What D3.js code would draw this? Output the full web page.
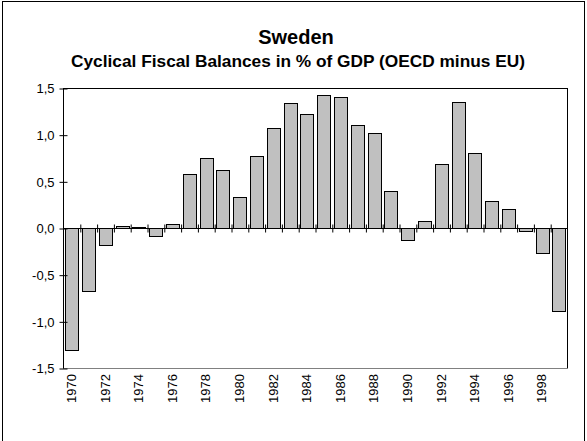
<!DOCTYPE html>
<html>
<head>
<meta charset="utf-8">
<script src="https://cdn.jsdelivr.net/npm/d3@7"></script>
<style>
  body { margin: 0; background: #fff; }
  svg { display: block; font-family: Arial, "Liberation Sans", sans-serif; }
</style>
</head>
<body>
<div id="chart"></div>
<script>
// data
const years = d3.range(1970, 2000).map(String);
const balances = [
  -1.31, -0.68, -0.18, 0.02, 0.01, -0.09, 0.04, 0.58, 0.75, 0.62,
  0.33, 0.77, 1.07, 1.34, 1.22, 1.42, 1.40, 1.10, 1.02, 0.40,
  -0.13, 0.07, 0.69, 1.35, 0.80, 0.29, 0.20, -0.03, -0.27, -0.89
];
const yTicks = [-1.5, -1.0, -0.5, 0.0, 0.5, 1.0, 1.5];
const yearLabels = years.filter((d, i) => i % 2 === 0);
const titleText = 'Sweden';
const subtitleText = 'Cyclical Fiscal Balances in % of GDP (OECD minus EU)';

const width = 587, height = 441;
const plotLeft = 63, plotRight = 567, plotTop = 88, plotBottom = 368;

const svg = d3.select('#chart').append('svg')
  .attr('width', width)
  .attr('height', height);

// outer chart frame
svg.append('rect')
  .attr('x', 2.5).attr('y', 1.5)
  .attr('width', 582).attr('height', 450)
  .attr('fill', 'none')
  .attr('stroke', '#000');

svg.append('text')
  .attr('x', 296).attr('y', 44)
  .attr('text-anchor', 'middle')
  .attr('font-weight', 'bold')
  .attr('font-size', '20px')
  .text(titleText);

svg.append('text')
  .attr('x', 298).attr('y', 67)
  .attr('text-anchor', 'middle')
  .attr('font-weight', 'bold')
  .attr('font-size', '17.3px')
  .text(subtitleText);

const x = d3.scaleBand()
  .domain(years)
  .range([plotLeft, plotRight])
  .paddingInner(0.25)
  .paddingOuter(0.125);

const xEdge = d3.scaleLinear()
  .domain([0, years.length])
  .range([plotLeft, plotRight]);

const y = d3.scaleLinear()
  .domain([-1.5, 1.5])
  .range([plotBottom, plotTop]);

// plot area border: top and right black, bottom gray
svg.append('line')
  .attr('x1', plotLeft).attr('x2', plotRight + 0.5)
  .attr('y1', plotTop + 0.5).attr('y2', plotTop + 0.5)
  .attr('stroke', '#000');
svg.append('line')
  .attr('x1', plotRight + 0.5).attr('x2', plotRight + 0.5)
  .attr('y1', plotTop).attr('y2', plotBottom)
  .attr('stroke', '#000');
svg.append('line')
  .attr('x1', plotLeft).attr('x2', plotRight + 1)
  .attr('y1', plotBottom + 0.5).attr('y2', plotBottom + 0.5)
  .attr('stroke', '#808080');

svg.selectAll('.bar')
  .data(balances)
  .enter()
    .append('rect')
    .attr('class', 'bar')
    .attr('x', (d, i) => Math.round(x(years[i])) + 0.5)
    .attr('width', Math.round(x.bandwidth()))
    .attr('y', d => Math.round(y(Math.max(0, d))) + 0.5)
    .attr('height', d => Math.max(1, Math.round(Math.abs(y(d) - y(0)))))
    .attr('fill', '#c0c0c0')
    .attr('stroke', '#000');

// value axis
const yAxis = svg.append('g')
  .attr('transform', 'translate(' + (plotLeft + 0.5) + ',0.5)')
  .call(d3.axisLeft(y)
    .tickValues(yTicks)
    .tickSize(4)
    .tickPadding(5)
    .tickFormat(d => d3.format('.1f')(d).replace('.', ',').replace('−', '-')));
yAxis.select('.domain').attr('d', 'M0,' + plotTop + 'V' + plotBottom).attr('stroke', '#000');
yAxis.selectAll('.tick line').attr('x1', 4);
yAxis.selectAll('.tick text').attr('font-size', '13px').attr('font-family', null).attr('fill', '#000');

// category axis through zero with crossing ticks
const xAxis = svg.append('g')
  .attr('transform', 'translate(0.5,' + (Math.round(y(0)) + 0.5) + ')')
  .call(d3.axisBottom(xEdge)
    .tickValues(d3.range(1, years.length))
    .tickSize(4)
    .tickFormat(''));
xAxis.select('.domain').attr('d', 'M' + plotLeft + ',0H' + plotRight).attr('stroke', '#000');
xAxis.selectAll('.tick line').attr('y1', -4);

// year labels
const xLabels = svg.append('g')
  .attr('transform', 'translate(0,' + (plotBottom + 6) + ')')
  .call(d3.axisBottom(x)
    .tickValues(yearLabels)
    .tickSize(0));
xLabels.select('.domain').remove();
xLabels.selectAll('.tick text')
  .attr('font-size', '13px')
  .attr('font-family', null)
  .attr('fill', '#000')
  .attr('transform', 'rotate(-90)')
  .attr('x', 0)
  .attr('y', 0)
  .attr('dy', '0.35em')
  .style('text-anchor', 'end');
</script>
</body>
</html>
